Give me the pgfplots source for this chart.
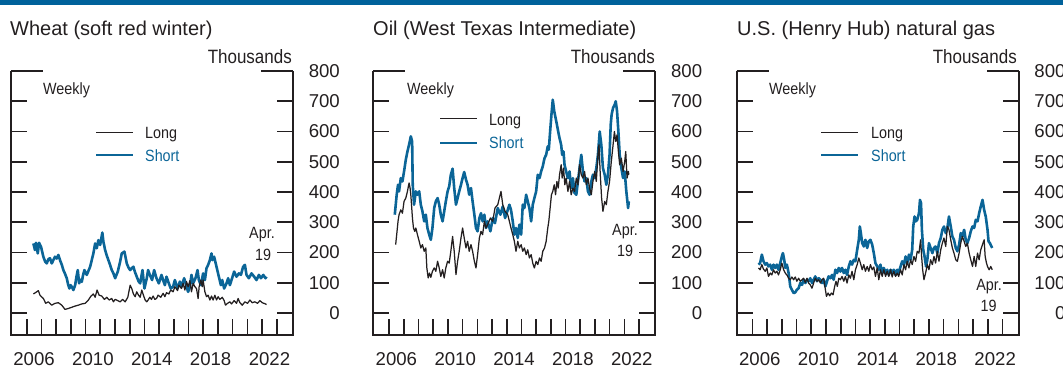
\documentclass[border=0pt]{standalone}
\usepackage{pgfplots}
\pgfplotsset{compat=1.18}
\usepackage{fontspec}
\setmainfont{Liberation Sans}
\newfontfamily\condfont{Liberation Sans}[FakeStretch=0.88]

\definecolor{fedblue}{HTML}{00629B}
\definecolor{shortblue}{HTML}{0B6597}
\definecolor{ink}{HTML}{231F20}

\tikzset{
  frame/.style={ink, line width=1.8pt},
  shortline/.style={shortblue, line width=2.6pt, line join=round},
  longline/.style={ink, line width=1.25pt, line join=round},
}

\pgfplotsset{
  panel/.style={
    scale only axis, width=282pt, height=264pt, anchor=south west,
    xmin=2004.93, xmax=2024.1, ymin=-72.7, ymax=800,
    clip=false,
    axis line style={draw=none},
    tick align=inside,
    major tick length=16pt,
    tick style={ink, line width=1.6pt},
    xtick={2006,...,2023}, xticklabels={},
    xtick pos=left,
    extra x ticks={2006.5,2010.5,2014.5,2018.5,2022.5},
    extra x tick labels={2006,2010,2014,2018,2022},
    extra x tick style={major tick length=0pt},
    xticklabel style={anchor=north, inner sep=0pt, yshift=-17pt},
    ytick={0,100,...,700},
    extra y ticks={800},
    extra y tick style={major tick length=32pt},
    ytick pos=both, yticklabel pos=right,
    yticklabel style={anchor=east, inner sep=0pt, xshift=47pt},
    ticklabel style={font=\fontsize{18.6}{20}\selectfont, text=ink},
    /pgf/number format/assume math mode=true,
  },
}

\newcommand{\titlefont}{\fontsize{20}{22}\selectfont}
\newcommand{\unitfont}{\fontsize{19.3}{21}\selectfont\condfont}
\newcommand{\smallfont}{\fontsize{16.3}{18}\selectfont\condfont}

\begin{document}
\begin{tikzpicture}[x=1pt,y=1pt]
\useasboundingbox (0,0) rectangle (1063,368);
\fill[fedblue] (0,363) rectangle (1063,368);

% ---------------- Wheat ----------------
\begin{axis}[panel, at={(11pt,33pt)}]
\draw[frame] (rel axis cs:0,1) -- (rel axis cs:0,0) -- (rel axis cs:1,0) -- (rel axis cs:1,1);
\addplot[shortline] coordinates {
(2006.45,230)(2006.56,208)(2006.63,232)(2006.75,197)(2006.84,232)(2006.97,219)(2007.13,186)(2007.25,170)
(2007.36,164)(2007.47,178)(2007.58,181)(2007.70,164)(2007.81,175)(2007.92,186)(2008.04,180)(2008.15,192)
(2008.26,175)(2008.38,160)(2008.49,142)(2008.60,130)(2008.72,115)(2008.81,95)(2008.90,81)(2008.98,92)
(2009.06,87)(2009.17,76)(2009.29,92)(2009.38,120)(2009.47,142)(2009.56,98)(2009.65,110)(2009.74,103)
(2009.83,125)(2009.92,142)(2010.08,126)(2010.20,140)(2010.31,153)(2010.42,175)(2010.53,197)(2010.65,230)
(2010.76,214)(2010.87,241)(2010.99,225)(2011.14,266)(2011.21,236)(2011.33,208)(2011.44,190)(2011.55,175)
(2011.66,160)(2011.78,142)(2011.90,130)(2012.01,115)(2012.19,137)(2012.35,170)(2012.46,197)(2012.64,203)
(2012.80,164)(2012.92,150)(2013.03,142)(2013.14,148)(2013.25,153)(2013.36,135)(2013.48,120)(2013.60,105)
(2013.71,98)(2013.87,142)(2014.00,81)(2014.16,115)(2014.25,142)(2014.37,126)(2014.52,109)(2014.66,142)
(2014.82,115)(2014.98,98)(2015.16,126)(2015.27,109)(2015.39,92)(2015.50,120)(2015.66,98)(2015.79,81)
(2015.95,87)(2016.07,109)(2016.25,81)(2016.41,104)(2016.52,87)(2016.70,115)(2016.86,87)(2016.97,70)
(2017.09,87)(2017.20,126)(2017.31,98)(2017.47,115)(2017.61,142)(2017.70,109)(2017.84,92)(2017.99,131)
(2018.11,109)(2018.22,148)(2018.33,159)(2018.45,175)(2018.56,197)(2018.63,175)(2018.74,186)(2018.90,153)
(2019.06,120)(2019.20,92)(2019.29,109)(2019.42,81)(2019.58,98)(2019.69,115)(2019.81,92)(2019.92,109)
(2020.10,137)(2020.26,120)(2020.42,131)(2020.56,126)(2020.71,153)(2020.83,159)(2020.94,126)(2021.10,115)
(2021.28,131)(2021.46,120)(2021.62,109)(2021.78,126)(2021.92,115)(2022.08,126)(2022.23,115)(2022.30,120)
};
\addplot[longline] coordinates {
(2006.45,63)(2006.68,70)(2006.79,74)(2006.90,59)(2007.13,48)(2007.29,32)(2007.47,37)(2007.70,26)
(2007.92,32)(2008.15,34)(2008.38,26)(2008.60,12)(2008.83,15)(2009.06,19)(2009.29,23)(2009.51,26)
(2009.74,30)(2009.97,32)(2010.19,43)(2010.37,56)(2010.53,63)(2010.65,52)(2010.78,76)(2010.92,59)
(2011.10,56)(2011.28,45)(2011.44,52)(2011.60,43)(2011.78,48)(2011.89,37)(2012.01,45)(2012.19,41)
(2012.35,37)(2012.51,45)(2012.69,37)(2012.87,52)(2013.03,92)(2013.14,81)(2013.25,63)(2013.37,54)
(2013.48,70)(2013.60,59)(2013.71,52)(2013.82,76)(2013.93,59)(2014.05,43)(2014.16,37)(2014.25,43)
(2014.37,52)(2014.48,45)(2014.59,56)(2014.71,45)(2014.82,48)(2014.93,59)(2015.11,52)(2015.27,65)
(2015.39,54)(2015.50,67)(2015.66,63)(2015.79,76)(2015.95,70)(2016.07,87)(2016.25,74)(2016.34,92)
(2016.52,81)(2016.63,98)(2016.75,76)(2016.86,104)(2016.97,87)(2017.09,107)(2017.20,70)(2017.31,98)
(2017.43,87)(2017.54,81)(2017.65,48)(2017.72,87)(2017.84,109)(2017.93,87)(2017.99,109)(2018.11,70)
(2018.22,54)(2018.33,59)(2018.45,43)(2018.56,56)(2018.67,43)(2018.79,59)(2018.90,43)(2019.01,54)
(2019.13,45)(2019.29,52)(2019.42,41)(2019.51,26)(2019.65,32)(2019.81,37)(2019.92,30)(2020.10,41)
(2020.26,32)(2020.37,48)(2020.49,34)(2020.65,26)(2020.83,37)(2021.01,32)(2021.17,43)(2021.33,34)
(2021.51,37)(2021.69,32)(2021.85,41)(2022.01,34)(2022.23,30)(2022.30,28)
};
\end{axis}

% ---------------- Oil ----------------
\begin{axis}[panel, at={(373.3pt,33pt)}]
\draw[frame] (rel axis cs:0,1) -- (rel axis cs:0,0) -- (rel axis cs:1,0) -- (rel axis cs:1,1);
\addplot[shortline] coordinates {
(2006.39,325)(2006.52,391)(2006.61,424)(2006.68,402)(2006.80,446)(2006.91,435)(2007.02,468)(2007.14,507)
(2007.25,534)(2007.36,556)(2007.48,584)(2007.57,567)(2007.61,424)(2007.70,358)(2007.82,402)(2007.93,391)
(2008.05,402)(2008.16,358)(2008.27,336)(2008.39,303)(2008.50,325)(2008.61,281)(2008.73,259)(2008.84,242)
(2008.95,281)(2009.07,347)(2009.18,369)(2009.30,380)(2009.41,358)(2009.52,325)(2009.64,303)(2009.75,336)
(2009.86,369)(2009.98,402)(2010.09,419)(2010.20,457)(2010.32,477)(2010.43,413)(2010.55,358)(2010.66,380)
(2010.77,402)(2010.89,424)(2011.00,446)(2011.11,466)(2011.23,441)(2011.34,424)(2011.45,391)(2011.57,413)
(2011.68,369)(2011.80,325)(2011.91,281)(2012.02,270)(2012.14,314)(2012.25,330)(2012.36,303)(2012.48,325)
(2012.59,281)(2012.70,303)(2012.89,270)(2013.05,314)(2013.20,297)(2013.39,347)(2013.57,325)(2013.73,352)
(2013.89,314)(2014.07,341)(2014.18,358)(2014.29,341)(2014.41,303)(2014.52,259)(2014.63,281)(2014.75,248)
(2014.86,292)(2014.98,259)(2015.09,358)(2015.20,347)(2015.32,391)(2015.43,369)(2015.54,347)(2015.66,303)
(2015.77,358)(2015.88,380)(2016.00,402)(2016.11,457)(2016.23,446)(2016.34,468)(2016.45,485)(2016.57,512)
(2016.68,523)(2016.79,551)(2016.86,540)(2016.95,600)(2017.04,656)(2017.13,705)(2017.23,667)(2017.32,645)
(2017.41,623)(2017.50,600)(2017.59,578)(2017.70,556)(2017.77,523)(2017.86,534)(2017.93,490)(2018.04,468)
(2018.16,446)(2018.27,468)(2018.38,413)(2018.50,446)(2018.61,397)(2018.73,391)(2018.84,435)(2018.95,479)
(2019.07,523)(2019.18,468)(2019.29,435)(2019.41,446)(2019.52,402)(2019.63,391)(2019.75,435)(2019.86,457)
(2019.98,446)(2020.09,479)(2020.20,523)(2020.32,600)(2020.43,556)(2020.54,479)(2020.66,457)(2020.77,424)
(2020.88,457)(2020.99,523)(2021.07,623)(2021.13,656)(2021.23,678)(2021.34,689)(2021.41,700)(2021.50,667)
(2021.59,600)(2021.68,523)(2021.79,479)(2021.91,446)(2022.02,468)(2022.13,402)(2022.25,347)(2022.30,369)
};
\addplot[longline] coordinates {
(2006.45,226)(2006.52,259)(2006.61,303)(2006.68,325)(2006.80,341)(2006.91,330)(2007.02,369)(2007.14,380)
(2007.25,402)(2007.36,430)(2007.43,413)(2007.48,391)(2007.59,314)(2007.66,281)(2007.75,270)(2007.82,281)
(2007.93,259)(2008.05,237)(2008.16,215)(2008.27,226)(2008.39,204)(2008.50,215)(2008.57,149)(2008.66,116)
(2008.75,132)(2008.84,118)(2008.95,138)(2009.07,149)(2009.18,138)(2009.30,171)(2009.41,149)(2009.52,121)
(2009.64,143)(2009.75,116)(2009.86,149)(2009.98,171)(2010.09,165)(2010.20,204)(2010.32,253)(2010.43,204)
(2010.55,127)(2010.66,171)(2010.77,204)(2010.89,248)(2011.00,281)(2011.11,248)(2011.23,215)(2011.34,237)
(2011.45,204)(2011.57,226)(2011.68,204)(2011.80,171)(2011.91,149)(2012.02,193)(2012.14,248)(2012.25,270)
(2012.36,259)(2012.48,303)(2012.59,281)(2012.70,292)(2012.89,314)(2013.05,303)(2013.20,347)(2013.39,358)
(2013.50,380)(2013.61,402)(2013.73,358)(2013.89,336)(2014.07,325)(2014.18,303)(2014.29,281)(2014.41,259)
(2014.52,237)(2014.63,204)(2014.75,237)(2014.86,215)(2014.98,226)(2015.09,204)(2015.20,215)(2015.32,193)
(2015.43,209)(2015.54,182)(2015.66,193)(2015.77,165)(2015.88,149)(2016.00,171)(2016.11,160)(2016.23,182)
(2016.34,171)(2016.45,204)(2016.57,215)(2016.68,237)(2016.79,281)(2016.86,303)(2016.95,347)(2017.04,391)
(2017.13,402)(2017.23,424)(2017.32,391)(2017.41,435)(2017.50,413)(2017.59,457)(2017.70,490)(2017.77,446)
(2017.86,479)(2017.95,424)(2018.04,446)(2018.16,402)(2018.27,435)(2018.38,391)(2018.50,413)(2018.61,402)
(2018.73,446)(2018.84,424)(2018.95,490)(2019.07,457)(2019.18,446)(2019.29,468)(2019.41,424)(2019.52,446)
(2019.63,413)(2019.75,391)(2019.86,435)(2019.98,468)(2020.09,435)(2020.20,523)(2020.27,556)(2020.36,457)
(2020.45,380)(2020.54,336)(2020.66,369)(2020.77,358)(2020.88,402)(2020.99,435)(2021.11,501)(2021.23,556)
(2021.32,600)(2021.41,567)(2021.50,589)(2021.59,534)(2021.68,490)(2021.79,512)(2021.91,468)(2022.02,501)
(2022.09,534)(2022.18,446)(2022.27,468)(2022.30,457)
};
\end{axis}

% ---------------- Natural gas ----------------
\begin{axis}[panel, at={(736.7pt,33pt)}]
\draw[frame] (rel axis cs:0,1) -- (rel axis cs:0,0) -- (rel axis cs:1,0) -- (rel axis cs:1,1);
\addplot[shortline] coordinates {
(2006.41,160)(2006.52,165)(2006.64,193)(2006.75,171)(2006.87,160)(2006.98,165)(2007.09,154)(2007.21,160)
(2007.32,143)(2007.43,160)(2007.55,149)(2007.66,160)(2007.77,143)(2007.89,165)(2008.00,187)(2008.07,198)
(2008.16,176)(2008.23,149)(2008.34,160)(2008.46,132)(2008.57,88)(2008.68,77)(2008.80,66)(2008.91,68)
(2009.02,77)(2009.14,82)(2009.25,99)(2009.37,93)(2009.48,110)(2009.59,99)(2009.71,110)(2009.82,105)
(2009.93,115)(2010.05,99)(2010.16,110)(2010.27,121)(2010.39,105)(2010.50,115)(2010.62,110)(2010.73,99)
(2010.84,110)(2010.96,88)(2011.07,105)(2011.18,121)(2011.30,115)(2011.41,126)(2011.52,110)(2011.64,143)
(2011.75,132)(2011.87,149)(2011.98,137)(2012.09,149)(2012.21,132)(2012.32,143)(2012.43,126)(2012.55,154)
(2012.66,171)(2012.77,160)(2012.89,176)(2013.00,171)(2013.12,209)(2013.23,242)(2013.30,286)(2013.37,264)
(2013.46,231)(2013.57,220)(2013.68,242)(2013.80,215)(2013.91,237)(2014.02,242)(2014.14,226)(2014.25,198)
(2014.36,165)(2014.48,154)(2014.59,143)(2014.70,160)(2014.82,132)(2014.93,149)(2015.05,132)(2015.16,143)
(2015.27,126)(2015.39,143)(2015.50,132)(2015.61,143)(2015.73,126)(2015.84,143)(2015.94,132)(2016.07,154)
(2016.18,171)(2016.30,160)(2016.41,187)(2016.52,165)(2016.64,193)(2016.75,176)(2016.86,209)(2016.93,286)
(2017.02,319)(2017.11,303)(2017.20,308)(2017.32,330)(2017.39,374)(2017.46,363)(2017.52,275)(2017.61,209)
(2017.70,187)(2017.80,154)(2017.89,176)(2018.00,231)(2018.11,215)(2018.23,198)(2018.34,215)(2018.45,220)
(2018.57,198)(2018.68,231)(2018.80,248)(2018.91,275)(2019.02,286)(2019.14,264)(2019.25,281)(2019.36,319)
(2019.48,286)(2019.59,253)(2019.70,242)(2019.82,215)(2019.93,204)(2020.05,226)(2020.16,264)(2020.27,253)
(2020.39,275)(2020.50,242)(2020.61,231)(2020.73,248)(2020.84,270)(2020.96,286)(2021.07,281)(2021.18,308)
(2021.30,303)(2021.41,330)(2021.52,352)(2021.64,374)(2021.75,341)(2021.86,319)(2021.98,275)(2022.05,237)
(2022.14,231)(2022.25,220)(2022.30,215)
};
\addplot[longline] coordinates {
(2006.41,149)(2006.52,143)(2006.64,160)(2006.75,145)(2006.87,138)(2006.98,149)(2007.09,121)(2007.21,132)
(2007.32,126)(2007.43,143)(2007.55,132)(2007.66,138)(2007.77,126)(2007.89,143)(2008.00,165)(2008.12,143)
(2008.23,132)(2008.34,126)(2008.46,115)(2008.57,110)(2008.68,119)(2008.80,110)(2008.91,119)(2009.02,105)
(2009.14,115)(2009.25,105)(2009.37,110)(2009.48,115)(2009.59,101)(2009.71,115)(2009.82,99)(2009.93,93)
(2010.05,82)(2010.16,99)(2010.27,115)(2010.39,105)(2010.50,110)(2010.62,99)(2010.73,110)(2010.84,115)
(2010.96,77)(2011.03,55)(2011.14,66)(2011.25,57)(2011.37,66)(2011.48,60)(2011.59,88)(2011.68,105)
(2011.77,88)(2011.87,115)(2011.98,110)(2012.09,121)(2012.21,105)(2012.32,121)(2012.43,99)(2012.55,126)
(2012.66,115)(2012.77,138)(2012.89,110)(2013.00,143)(2013.12,160)(2013.23,182)(2013.34,165)(2013.46,143)
(2013.57,160)(2013.68,138)(2013.80,154)(2013.91,138)(2014.02,160)(2014.14,143)(2014.25,152)(2014.36,121)
(2014.48,149)(2014.59,110)(2014.70,143)(2014.82,121)(2014.93,143)(2015.05,121)(2015.16,138)(2015.27,121)
(2015.39,143)(2015.50,119)(2015.61,138)(2015.73,121)(2015.84,132)(2015.94,121)(2016.07,143)(2016.18,126)
(2016.30,160)(2016.41,143)(2016.52,171)(2016.64,149)(2016.75,176)(2016.86,160)(2016.98,187)(2017.09,171)
(2017.20,204)(2017.32,198)(2017.43,242)(2017.50,187)(2017.57,143)(2017.66,110)(2017.77,132)(2017.89,160)
(2018.00,143)(2018.11,176)(2018.23,160)(2018.34,187)(2018.45,165)(2018.57,204)(2018.68,171)(2018.80,209)
(2018.91,231)(2019.02,248)(2019.14,220)(2019.25,286)(2019.36,275)(2019.48,242)(2019.59,215)(2019.70,198)
(2019.82,176)(2019.93,171)(2020.05,198)(2020.16,231)(2020.27,253)(2020.39,237)(2020.50,220)(2020.61,231)
(2020.73,198)(2020.84,176)(2020.96,154)(2021.07,187)(2021.18,154)(2021.30,198)(2021.41,176)(2021.52,209)
(2021.64,226)(2021.75,242)(2021.82,187)(2021.91,165)(2021.98,154)(2022.09,143)(2022.20,154)(2022.30,143)
};
\end{axis}

% ---------------- titles and notes ----------------
\begin{scope}[every node/.style={text=ink, inner sep=0pt}]
\node[anchor=base west, font=\titlefont] at (10,333) {Wheat (soft red winter)};
\node[anchor=base west, font=\titlefont] at (373,333) {Oil (West Texas Intermediate)};
\node[anchor=base west, font=\titlefont] at (737,333) {U.S. (Henry Hub) natural gas};

\node[anchor=base east, font=\unitfont] at (292,305) {Thousands};
\node[anchor=base east, font=\unitfont] at (655,305) {Thousands};
\node[anchor=base east, font=\unitfont] at (1017,305) {Thousands};

\node[anchor=base west, font=\smallfont] at (43,274) {Weekly};
\node[anchor=base west, font=\smallfont] at (407,274) {Weekly};
\node[anchor=base west, font=\smallfont] at (769,274) {Weekly};

% legend keys
\draw[ink, line width=1pt] (96,235.3) -- (133,235.3);
\draw[shortblue, line width=2pt] (96,213) -- (133,213);
\node[anchor=base west, font=\smallfont] at (145,229.7) {Long};
\node[anchor=base west, font=\smallfont, text=shortblue] at (145,206.3) {Short};

\draw[ink, line width=1pt] (440,250) -- (477,250);
\draw[shortblue, line width=2pt] (440,225) -- (477,225);
\node[anchor=base west, font=\smallfont] at (489,243) {Long};
\node[anchor=base west, font=\smallfont, text=shortblue] at (489,219.7) {Short};

\draw[ink, line width=1pt] (821,235.3) -- (858,235.3);
\draw[shortblue, line width=2pt] (821,213) -- (858,213);
\node[anchor=base west, font=\smallfont] at (871,229.7) {Long};
\node[anchor=base west, font=\smallfont, text=shortblue] at (871,206.3) {Short};

% date notes
\node[anchor=base, font=\smallfont] at (262,129.7) {Apr.};
\node[anchor=base, font=\smallfont] at (263,108) {19};
\node[anchor=base, font=\smallfont] at (625,133) {Apr.};
\node[anchor=base, font=\smallfont] at (625,112) {19};
\node[anchor=base, font=\smallfont] at (989,77.3) {Apr.};
\node[anchor=base, font=\smallfont] at (988.5,56.3) {19};
\end{scope}
\end{tikzpicture}
\end{document}
